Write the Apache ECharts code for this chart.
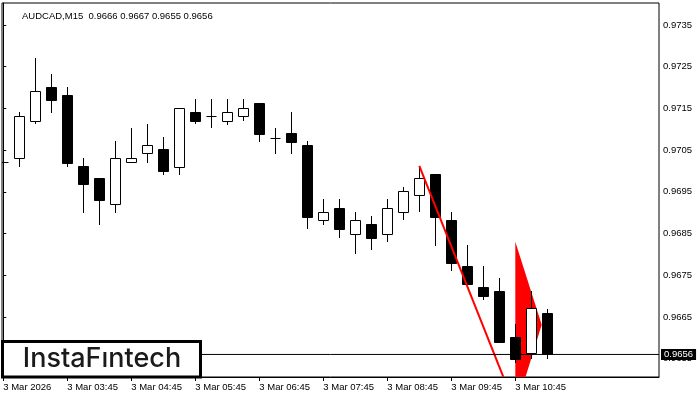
<!DOCTYPE html>
<html><head><meta charset="utf-8">
<script src="https://cdn.jsdelivr.net/npm/echarts@6/dist/echarts.min.js"></script>
<style>html,body{margin:0;padding:0;background:#fff}#c{width:700px;height:400px}</style>
</head><body><div id="c"></div>
<script>
// candle index (M15 bars from 3 Mar 02:45)
var barIndex = [0,1,2,3,4,5,6,7,8,9,10,11,12,13,14,15,16,17,18,19,20,21,22,23,24,25,26,27,28,29,30,31,32,33,34];
var openV  = [0.97022,0.97030,0.97121,0.97201,0.97182,0.97012,0.96983,0.96920,0.97021,0.97042,0.97053,0.97010,0.97141,0.97131,0.97121,0.97131,0.97163,0.97080,0.97091,0.97062,0.96882,0.96910,0.96850,0.96872,0.96850,0.96901,0.96942,0.96993,0.96882,0.96772,0.96722,0.96712,0.96602,0.96563,0.96660];
var highV  = [0.97073,0.97141,0.97272,0.97232,0.97201,0.97031,0.96983,0.97073,0.97103,0.97113,0.97081,0.97151,0.97173,0.97173,0.97173,0.97173,0.97163,0.97102,0.97141,0.97072,0.96933,0.96933,0.96901,0.96891,0.96933,0.96962,0.97012,0.96993,0.96902,0.96822,0.96772,0.96743,0.96633,0.96712,0.96670];
var lowV   = [0.97010,0.97010,0.97112,0.97140,0.97010,0.96900,0.96871,0.96900,0.97021,0.97020,0.96991,0.96991,0.97112,0.97102,0.97111,0.97121,0.97070,0.97041,0.97041,0.96862,0.96871,0.96840,0.96802,0.96811,0.96830,0.96882,0.96901,0.96821,0.96761,0.96730,0.96691,0.96591,0.96540,0.96550,0.96550];
var closeV = [0.97022,0.97132,0.97192,0.97171,0.97020,0.96969,0.96931,0.97030,0.97030,0.97062,0.97001,0.97151,0.97121,0.97131,0.97141,0.97150,0.97089,0.97080,0.97070,0.96890,0.96901,0.96862,0.96882,0.96840,0.96910,0.96952,0.96982,0.96890,0.96780,0.96730,0.96701,0.96591,0.96550,0.96671,0.96560];

// x axis tick labels
var xTickIdx = [0,4,8,12,16,20,24,28,32];
var xTickLabels = ["3 Mar 2026","3 Mar 03:45","3 Mar 04:45","3 Mar 05:45","3 Mar 06:45","3 Mar 07:45","3 Mar 08:45","3 Mar 09:45","3 Mar 10:45"];
// y axis tick labels
var yTickVals = [0.9655,0.9665,0.9675,0.9685,0.9695,0.9705,0.9715,0.9725,0.9735];
var lastPrice = 0.9656;

// red trend line
var trendX = [26, 31.25];
var trendY = [0.97012, 0.96506];
// red pennant triangle
var pennantX = [32, 33.65, 32];
var pennantY = [0.96830, 0.96631, 0.96427];

var FONT = "'Liberation Sans', Arial, sans-serif";
var X_MIN = -0.08, X_MAX = 40.98;

var candleData = barIndex.map(function(i){ return [i, openV[i], highV[i], lowV[i], closeV[i]]; });
var trendData = trendX.map(function(x,i){ return [x, trendY[i]]; });

function renderCandle(params, api) {
  var x = api.value(0), o = api.value(1), h = api.value(2), l = api.value(3), c = api.value(4);
  var pO = api.coord([x, o]), pC = api.coord([x, c]), pH = api.coord([x, h]), pL = api.coord([x, l]);
  var cx = Math.round(pO[0]) + 0.5;
  var bw = 10;
  var top = Math.round(Math.min(pO[1], pC[1])), bot = Math.round(Math.max(pO[1], pC[1]));
  var bear = c < o;
  var children = [{
    type: 'line',
    shape: {x1: cx, y1: Math.round(pH[1]), x2: cx, y2: Math.round(pL[1])},
    style: {stroke: '#000', lineWidth: 1}
  }];
  if (bot - top < 1) {
    children.push({type: 'line', shape: {x1: cx - bw/2, y1: top + 0.5, x2: cx + bw/2, y2: top + 0.5}, style: {stroke: '#000', lineWidth: 1}});
  } else {
    children.push({type: 'rect', shape: {x: cx - bw/2, y: top + 0.5, width: bw, height: bot - top},
      style: {fill: bear ? '#000' : '#fff', stroke: '#000', lineWidth: 1}});
  }
  return {type: 'group', children: children};
}

function renderPennant(params, api) {
  if (params.dataIndex !== 0) return;
  var pts = pennantX.map(function(x, i){ return api.coord([x, pennantY[i]]); });
  return {type: 'polygon', shape: {points: pts}, style: {fill: '#ff0000', stroke: null}};
}

var chart = echarts.init(document.getElementById('c'), null, {renderer: 'canvas'});
chart.setOption({
  animation: false,
  backgroundColor: '#fff',
  title: {
    text: 'AUDCAD,M15  0.9666 0.9667 0.9655 0.9656',
    left: 17, top: 6,
    textStyle: {fontFamily: FONT, fontSize: 9.5, fontWeight: 'normal', color: '#000'}
  },
  grid: {left: 2, right: 41, top: 3, bottom: 23, show: true, borderColor: '#000', borderWidth: 1, backgroundColor: 'transparent'},
  xAxis: {
    type: 'value', min: X_MIN, max: X_MAX,
    axisLine: {show: true, lineStyle: {color: '#000', width: 1}},
    axisTick: {show: true, customValues: xTickIdx, length: 4, inside: false, lineStyle: {color: '#000'}},
    axisLabel: {show: true, customValues: xTickIdx, align: 'left', margin: 5,
      formatter: function(v){ var k = xTickIdx.indexOf(Math.round(v)); return k >= 0 ? xTickLabels[k] : ''; },
      fontFamily: FONT, fontSize: 9.5, color: '#000'},
    splitLine: {show: false}
  },
  yAxis: {
    type: 'value', position: 'right', min: 0.965059, max: 0.974028, scale: true,
    axisLine: {show: true, lineStyle: {color: '#000', width: 1}},
    axisTick: {show: true, customValues: yTickVals, length: 3, inside: false, lineStyle: {color: '#000'}},
    axisLabel: {show: true, customValues: yTickVals, margin: 4,
      formatter: function(v){ return v.toFixed(4); },
      fontFamily: FONT, fontSize: 9.5, color: '#000'},
    splitLine: {show: false}
  },
  series: [
    {
      type: 'custom', name: 'pennant', renderItem: renderPennant, data: [[0]], clip: true, z: 1, silent: true
    },
    {
      type: 'custom', name: 'AUDCAD', renderItem: renderCandle, data: candleData, clip: true, z: 2,
      encode: {x: 0, y: [1, 2, 3, 4]}, silent: true
    },
    {
      type: 'line', name: 'trend', data: trendData, symbol: 'none', clip: true, z: 3, silent: true,
      lineStyle: {color: '#ff0000', width: 2}
    },
    {
      type: 'line', name: 'price', data: [[X_MIN, lastPrice], [X_MAX, lastPrice]], symbol: 'none', clip: false, z: 4, silent: true,
      lineStyle: {color: '#000', width: 1},
      endLabel: {show: true, distance: 2, formatter: lastPrice.toFixed(4),
        backgroundColor: '#000', color: '#fff', padding: [1, 3, 0, 3], fontFamily: FONT, fontSize: 9.5}
    }
  ],
  graphic: [
    {type: 'rect', z: 100, shape: {x: 2.5, y: 341.5, width: 198, height: 35.5},
      style: {fill: '#fff', stroke: '#000', lineWidth: 3}},
    {type: 'text', z: 101, x: 102, y: 359,
      style: {text: 'InstaFıntech', font: '500 27px Inter, "Open Sans", sans-serif', fill: '#1a1a1a', align: 'center', verticalAlign: 'middle'}}
  ]
});
</script>
</body></html>
